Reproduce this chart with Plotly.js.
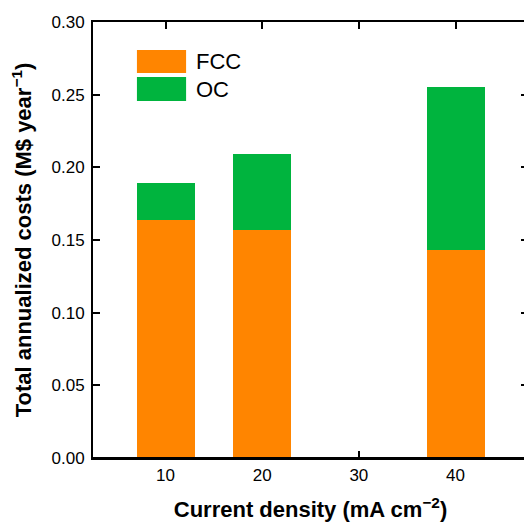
<!DOCTYPE html>
<html>
<head>
<meta charset="utf-8">
<script src="https://cdn.plot.ly/plotly-3.0.1.min.js"></script>
<style>
  html, body { margin: 0; padding: 0; overflow: hidden; background: #fff; width: 524px; height: 522px; }
  #chart { width: 540px; height: 522px; }
</style>
</head>
<body>
<div id="chart"></div>
<script>
const currentDensity = [10, 20, 40];
const fccValues = [0.164, 0.157, 0.143];
const ocValues = [0.025, 0.052, 0.112];
const xTickVals = [10, 20, 30, 40];
const yTickVals = [0, 0.05, 0.10, 0.15, 0.20, 0.25, 0.30];

const orange = '#FF8500';
const green = '#00B43E';
const font = 'Arial, "Liberation Sans", sans-serif';

const traces = [
  { type: 'bar', name: 'FCC', x: currentDensity, y: fccValues, width: 6,
    marker: { color: orange, line: { width: 0 } }, showlegend: false, hoverinfo: 'skip' },
  { type: 'bar', name: 'OC', x: currentDensity, y: ocValues, width: 6,
    marker: { color: green, line: { width: 0 } }, showlegend: false, hoverinfo: 'skip' }
];

const layout = {
  width: 540, height: 522,
  margin: { l: 93, r: 12, t: 22, b: 64 },
  paper_bgcolor: '#ffffff', plot_bgcolor: '#ffffff',
  barmode: 'stack',
  font: { family: font, color: '#000', size: 17 },
  xaxis: {
    range: [2.5, 47.5], tickvals: xTickVals, ticktext: xTickVals.map(String),
    ticks: 'inside', ticklen: 7, tickwidth: 2, tickcolor: '#000',
    showline: true, linewidth: 2, linecolor: '#000', mirror: 'ticks',
    showgrid: false, zeroline: false, layer: 'below traces',
    tickfont: { size: 17 }, ticklabelstandoff: 1,
    title: { text: '<b>Current density (mA cm<sup>−2</sup>)</b>', font: { size: 22 }, standoff: 19 }
  },
  yaxis: {
    range: [0, 0.30], tickvals: yTickVals, tickformat: '.2f',
    ticks: 'inside', ticklen: 7, tickwidth: 2, tickcolor: '#000',
    showline: true, linewidth: 2, linecolor: '#000', mirror: 'ticks',
    showgrid: false, zeroline: false, layer: 'above traces',
    tickfont: { size: 17 }, ticklabelstandoff: 3,
    title: { text: '<b>Total annualized costs (M$ year<sup>−1</sup>)</b>', font: { size: 22 }, standoff: 14 }
  },
  shapes: [
    { type: 'line', xref: 'paper', yref: 'paper', x0: 0, x1: 1, y0: 0, y1: 0, line: { color: '#000', width: 2 }, layer: 'above' },
    { type: 'rect', xref: 'paper', yref: 'paper', x0: 0.101, x1: 0.214, y0: 0.883, y1: 0.936, fillcolor: orange, line: { width: 0 } },
    { type: 'rect', xref: 'paper', yref: 'paper', x0: 0.101, x1: 0.214, y0: 0.819, y1: 0.874, fillcolor: green, line: { width: 0 } }
  ],
  annotations: [
    { xref: 'paper', yref: 'paper', x: 0.232, y: 0.909, text: 'FCC', showarrow: false, xanchor: 'left', yanchor: 'middle', font: { size: 22 } },
    { xref: 'paper', yref: 'paper', x: 0.232, y: 0.846, text: 'OC', showarrow: false, xanchor: 'left', yanchor: 'middle', font: { size: 22 } }
  ]
};

Plotly.newPlot('chart', traces, layout, { staticPlot: true, displayModeBar: false });
</script>
</body>
</html>
